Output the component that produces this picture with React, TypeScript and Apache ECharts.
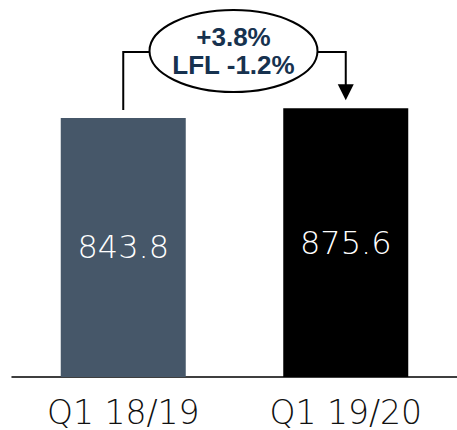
import React, { useEffect, useRef } from "react";
import * as echarts from "echarts";

const categories = ["Q1 18/19", "Q1 19/20"];
const values = [843.8, 875.6];
const barColors = ["#465769", "#000000"];
const annotationLines = ["+3.8%", "LFL -1.2%"];

export default function App() {
  const ref = useRef<HTMLDivElement>(null);
  useEffect(() => {
    if (!ref.current) return;
    const chart = echarts.init(ref.current, undefined, { renderer: "svg" });
    chart.setOption({
      animation: false,
      grid: { left: 12, width: 448, top: 70, bottom: 53 },
      xAxis: {
        type: "category",
        data: categories,
        axisLine: { lineStyle: { color: "#000", width: 1.5 } },
        axisTick: { show: false },
        axisLabel: {
          fontSize: 33,
          lineHeight: 30,
          fontFamily: "DejaVu Sans",
          fontWeight: 200,
          color: "#111",
          margin: 20,
        },
      },
      yAxis: { type: "value", min: 0, max: 1000, show: false },
      series: [
        {
          type: "bar",
          data: values.map((v, i) => ({ value: v, itemStyle: { color: barColors[i] } })),
          barWidth: 125,
          label: {
            show: true,
            position: "inside",
            color: "#fff",
            fontSize: 32,
            fontFamily: "DejaVu Sans",
            fontWeight: 200,
            formatter: (p: any) => Number(p.value).toFixed(1),
          },
        },
      ],
    });
    const p1 = chart.convertToPixel({ seriesIndex: 0 }, [0, values[0]]) as number[];
    const p2 = chart.convertToPixel({ seriesIndex: 0 }, [1, values[1]]) as number[];
    const cx = (p1[0] + p2[0]) / 2 - 1;
    const cy = 51;
    const lineY = 52;
    chart.setOption({
      graphic: [
        {
          type: "polyline",
          z: 10,
          shape: { points: [[p1[0], p1[1] - 8], [p1[0], lineY], [cx, lineY]] },
          style: { stroke: "#000", lineWidth: 2, fill: "none" },
        },
        {
          type: "polyline",
          z: 10,
          shape: { points: [[cx, lineY], [p2[0], lineY], [p2[0], p2[1] - 22]] },
          style: { stroke: "#000", lineWidth: 2, fill: "none" },
        },
        {
          type: "polygon",
          z: 10,
          shape: { points: [[p2[0] - 8, p2[1] - 24], [p2[0] + 8, p2[1] - 24], [p2[0], p2[1] - 8]] },
          style: { fill: "#000" },
        },
        {
          type: "ellipse",
          z: 20,
          shape: { cx, cy, rx: 84, ry: 41 },
          style: { fill: "#fff", stroke: "#000", lineWidth: 2 },
        },
        {
          type: "text",
          z: 30,
          x: cx,
          y: cy,
          style: {
            text: annotationLines.join("\n"),
            fill: "#17324f",
            font: "bold 26px 'Liberation Sans', sans-serif",
            lineHeight: 28,
            align: "center",
            verticalAlign: "middle",
          },
        },
      ],
    });
    return () => chart.dispose();
  }, []);
  return (
    <div
      ref={ref}
      style={{ position: "fixed", left: 0, top: 0, width: 457, height: 430, background: "#fff" }}
    />
  );
}
